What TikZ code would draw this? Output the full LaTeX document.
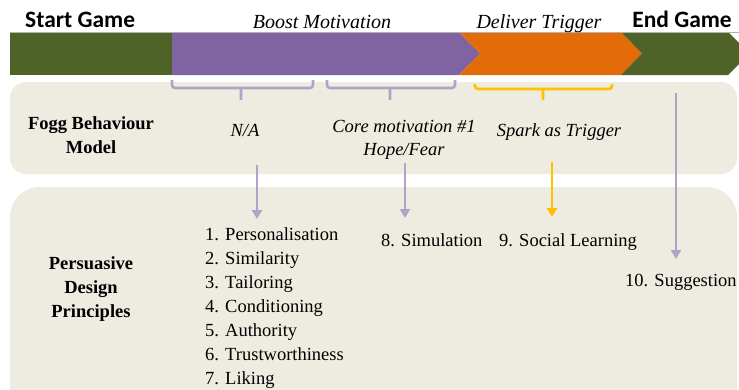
\documentclass[tikz,border=0pt]{standalone}
\usepackage{fontspec}
\setmainfont{Liberation Serif}
\newfontfamily\headsans{Carlito}
\definecolor{olive}{HTML}{4F6228}
\definecolor{violet}{HTML}{8064A2}
\definecolor{pumpkin}{HTML}{E36C09}
\definecolor{panel}{HTML}{EEECE1}
\definecolor{lilac}{HTML}{B3A2C7}
\definecolor{amber}{HTML}{FFC000}
\usetikzlibrary{arrows.meta}
\tikzset{
  stage/.style={font=\headsans\bfseries\fontsize{23.5}{26}\selectfont,inner sep=0pt},
  phase/.style={font=\itshape\fontsize{20}{24}\selectfont,anchor=base,inner sep=0pt},
  rowhead/.style={font=\bfseries\fontsize{18.5}{24}\selectfont,align=center,anchor=base,inner sep=0pt},
  fogg/.style={font=\itshape\fontsize{18.5}{23}\selectfont,align=center,anchor=base,inner sep=0pt},
  item/.style={font=\fontsize{18.5}{24}\selectfont,anchor=base west,inner sep=0pt},
  brace/.style={line width=2.6pt,rounded corners=3pt},
  link/.style={line width=2.6pt,-{Triangle[length=9pt,width=10pt]}}
}
\begin{document}
\begin{tikzpicture}[x=1pt,y=-1pt]
		\clip (0,0) rectangle (739,389);
		\fill[white] (0,0) rectangle (739,389);
		% panels
		\fill[panel,rounded corners=16pt] (10,82) rectangle (737,174);
		\fill[panel,rounded corners=30pt] (10,187) rectangle (737,420);
		% timeline bar
		\fill[olive] (10,32) rectangle (172,75);
		\fill[violet] (172,32)--(459,32)--(480,53.5)--(459,75)--(172,75)--cycle;
		\fill[pumpkin] (459,32)--(621,32)--(642,53.5)--(621,75)--(459,75)--(480,53.5)--cycle;
		\fill[olive] (621,32)--(728,32)--(749.5,53.5)--(728,75)--(621,75)--(642,53.5)--cycle;
		\draw[black!30,line width=0.8pt] (10,32)--(739,32);
		% bar labels
		\node[stage,anchor=base west] (start) at (25,27) {Start Game};
		\node[phase] (boost) at (322,28) {Boost Motivation};
		\node[phase] (deliver) at (539,28) {Deliver Trigger};
		\node[stage,anchor=base east] (end) at (732,27) {End Game};
		% row titles (base = last line)
		\node[rowhead] (foggtitle) at (91,153) {Fogg Behaviour\\Model};
		\node[rowhead] (pdptitle) at (91,317) {Persuasive\\Design\\Principles};
		% fogg entries
		\node[fogg] (na) at (245,136) {N/A};
		\node[fogg] (core) at (404,155) {Core motivation \#1\\Hope/Fear};
		\node[fogg] (spark) at (559,136) {Spark as Trigger};
		% principles
		\foreach \n/\t [count=\i from 0] in {1/Personalisation,2/Similarity,3/Tailoring,4/Conditioning,5/Authority,6/Trustworthiness,7/Liking}
			\node[item] (p\n) at (205,{240+24*\i}) {\n. \t};
		\node[item] (p8) at (381,246) {8. Simulation};
		\node[item] (p9) at (499,246) {9. Social Learning};
		\node[item] (p10) at (625,286) {10. Suggestion};
		% braces under the bar
		\coordinate (b1) at (241,100);
		\coordinate (b2) at (390,100);
		\coordinate (b3) at (543,100);
		\draw[brace,lilac] (172,80)--(172,88)--(313,88)--(313,80) (b1)--(241,88);
		\draw[brace,lilac] (327,80)--(327,88)--(455,88)--(455,80) (b2)--(390,88);
		\draw[brace,amber] (475,84)--(475,89)--(612,89)--(612,84) (b3)--(543,89);
		% connectors
		\coordinate (endtop) at (676,93);
		\coordinate (natail) at (257,165);
		\coordinate (coretail) at (405,163);
		\coordinate (sparktail) at (552,162);
		\draw[link,lilac] (endtop)--(676,259);
		\draw[link,lilac] (natail)--(257,219);
		\draw[link,lilac] (coretail)--(405,218);
		\draw[link,amber] (sparktail)--(552,217);
\end{tikzpicture}
\end{document}
